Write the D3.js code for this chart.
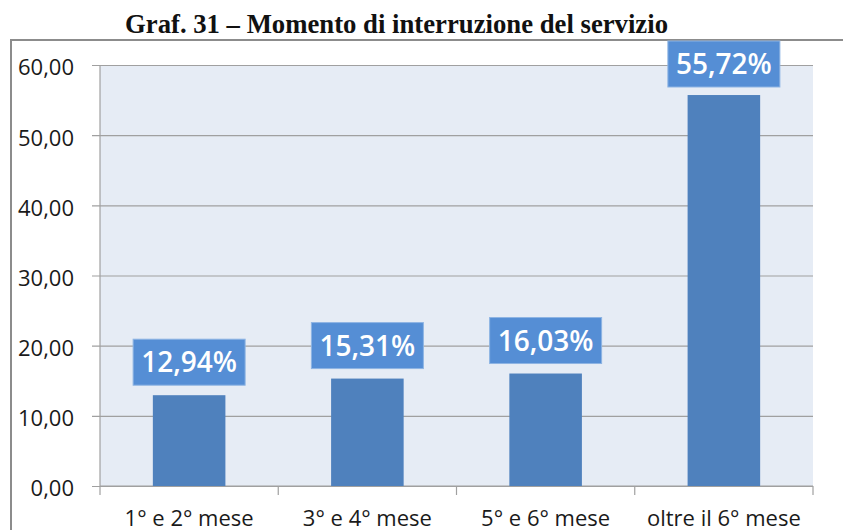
<!DOCTYPE html>
<html>
<head>
<meta charset="utf-8">
<script src="https://cdn.jsdelivr.net/npm/d3@7"></script>
<style>
  html, body { margin: 0; padding: 0; background: #fff; overflow: hidden; }
  text { font-family: "Open Sans", sans-serif; }
</style>
</head>
<body>
<div id="chart"></div>
<script>
const categories = ["1° e 2° mese", "3° e 4° mese", "5° e 6° mese", "oltre il 6° mese"];
const values = [12.94, 15.31, 16.03, 55.72];
const yTicks = [0, 10, 20, 30, 40, 50, 60];
const title = "Graf. 31 – Momento di interruzione del servizio";

const width = 843;
const height = 530;
const plot = {left: 100, right: 813, top: 65, bottom: 486};

const svg = d3.select("#chart")
    .append("svg")
    .attr("width", width)
    .attr("height", height);

// title, compressed serif like the original
svg.append("text")
    .attr("x", 125)
    .attr("y", 33)
    .attr("textLength", 543)
    .attr("lengthAdjust", "spacingAndGlyphs")
    .style("font-family", "'Liberation Serif', 'Times New Roman', serif")
    .style("font-weight", "bold")
    .style("font-size", "27px")
    .attr("fill", "#111")
    .text(title);

// outer chart frame (runs off the right and bottom)
svg.append("rect")
    .attr("x", 11)
    .attr("y", 40)
    .attr("width", 850)
    .attr("height", 520)
    .attr("fill", "none")
    .attr("stroke", "#8c8c8c")
    .attr("stroke-width", 2);

const x = d3.scaleBand()
    .domain(categories)
    .range([plot.left, plot.right])
    .paddingInner(0.593)
    .paddingOuter(0.593 / 2);

const y = d3.scaleLinear()
    .domain([0, 60])
    .range([plot.bottom, plot.top]);

// plot background
svg.append("rect")
    .attr("x", plot.left)
    .attr("y", plot.top)
    .attr("width", plot.right - plot.left)
    .attr("height", plot.bottom - plot.top)
    .attr("fill", "#e6ecf5");

// y axis with gridlines: axis sits on the right edge, ticks run left past the plot
const fmt = v => d3.format(".2f")(v).replace(".", ",");
const yAxis = svg.append("g")
    .attr("transform", `translate(${plot.right},0)`)
    .call(d3.axisLeft(y)
        .tickValues(yTicks)
        .tickSize(plot.right - plot.left + 8)
        .tickPadding(18)
        .tickFormat(fmt));
yAxis.select(".domain").remove();
yAxis.selectAll(".tick line").attr("stroke", "#a0a0a0").attr("stroke-width", 1.2);
yAxis.selectAll(".tick text")
    .attr("dy", "0.45em")
    .style("font-size", "22px")
    .style("font-family", "'Open Sans', sans-serif")
    .attr("fill", "#1a1a1a");

// left axis line
svg.append("line")
    .attr("x1", plot.left).attr("x2", plot.left)
    .attr("y1", plot.top).attr("y2", plot.bottom)
    .attr("stroke", "#a0a0a0")
    .attr("stroke-width", 1.2);

// category boundaries for the x ticks
const half = x.step() * x.paddingInner() / 2;
const bounds = categories.map(c => x(c) - half).concat([plot.right]);
svg.append("g").selectAll("line")
    .data(bounds)
    .enter()
    .append("line")
    .attr("x1", d => d).attr("x2", d => d)
    .attr("y1", plot.bottom).attr("y2", plot.bottom + 9)
    .attr("stroke", "#a0a0a0")
    .attr("stroke-width", 1.2);

svg.append("line")
    .attr("x1", plot.left).attr("x2", plot.right)
    .attr("y1", plot.bottom).attr("y2", plot.bottom)
    .attr("stroke", "#a0a0a0")
    .attr("stroke-width", 1.2);

// x labels
svg.append("g").selectAll("text")
    .data(categories)
    .enter()
    .append("text")
    .attr("x", d => x(d) + x.bandwidth() / 2)
    .attr("y", 526)
    .attr("text-anchor", "middle")
    .style("font-size", "22px")
    .attr("fill", "#1a1a1a")
    .text(d => d);

// bars
svg.append("g").selectAll("rect")
    .data(values)
    .enter()
    .append("rect")
    .attr("x", (d, i) => x(categories[i]))
    .attr("y", d => y(d))
    .attr("width", x.bandwidth())
    .attr("height", d => y(0) - y(d))
    .attr("fill", "#4f81bd");

// value labels in boxes above the bars
const BOX_W = 112;
const BOX_H = 46;
const labels = svg.append("g").selectAll("g")
    .data(values)
    .enter()
    .append("g")
    .attr("transform", (d, i) => {
        const cx = x(categories[i]) + x.bandwidth() / 2;
        const top = Math.max(y(d) - 10 - BOX_H, 41);
        return `translate(${cx},${top})`;
    });

labels.append("rect")
    .attr("x", -BOX_W / 2)
    .attr("y", 0)
    .attr("width", BOX_W)
    .attr("height", BOX_H)
    .attr("fill", "#558ed5")
    .attr("stroke", "#8eb4e3")
    .attr("stroke-width", 1);

labels.append("text")
    .attr("x", 0)
    .attr("y", BOX_H / 2 + 10)
    .attr("text-anchor", "middle")
    .style("font-size", "28px")
    .style("font-weight", 600)
    .attr("fill", "#fff")
    .text(d => fmt(d) + "%");
</script>
</body>
</html>
